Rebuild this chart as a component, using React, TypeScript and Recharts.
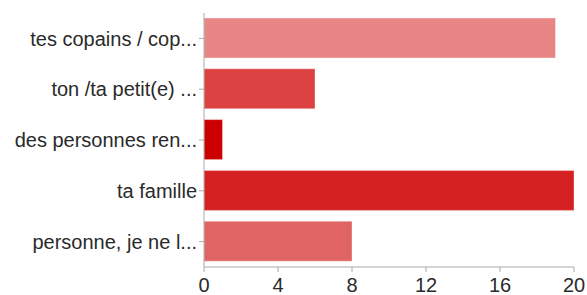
import { BarChart, Bar, XAxis, YAxis, Cell } from 'recharts';

const categories = [
  'tes copains / cop...',
  'ton /ta petit(e) ...',
  'des personnes ren...',
  'ta famille',
  'personne, je ne l...',
];
const counts = [19, 6, 1, 20, 8];
const xTicks = [0, 4, 8, 12, 16, 20];

const COLORS = ['#e88585', '#dc4242', '#cc0000', '#d52121', '#e06464'];

const data = categories.map((name, i) => ({ name, value: counts[i] }));

const tickStyle = { fontSize: 20, fill: '#2a2a2a', fontFamily: '"Liberation Sans", Arial, sans-serif' };

export default function App() {
  return (
    <div style={{ position: 'absolute', left: 0, top: 0, background: '#fff' }}>
      <BarChart
        width={587}
        height={295}
        data={data}
        layout="vertical"
        margin={{ top: 13, right: 13, left: 0, bottom: 0 }}
      >
        <XAxis
          type="number"
          domain={[0, 20]}
          ticks={xTicks}
          height={28}
          stroke="#aaa"
          tickSize={5}
          tickMargin={6}
          tick={tickStyle}
          interval={0}
        />
        <YAxis
          type="category"
          dataKey="name"
          width={204}
          stroke="#aaa"
          tickSize={5}
          tickMargin={2}
          tick={tickStyle}
          interval={0}
        />
        <Bar dataKey="value" barSize={40} isAnimationActive={false} stroke="#fff" strokeOpacity={0.35}>
          {data.map((_, i) => (
            <Cell key={`cell-${i}`} fill={COLORS[i % COLORS.length]} />
          ))}
        </Bar>
      </BarChart>
    </div>
  );
}
